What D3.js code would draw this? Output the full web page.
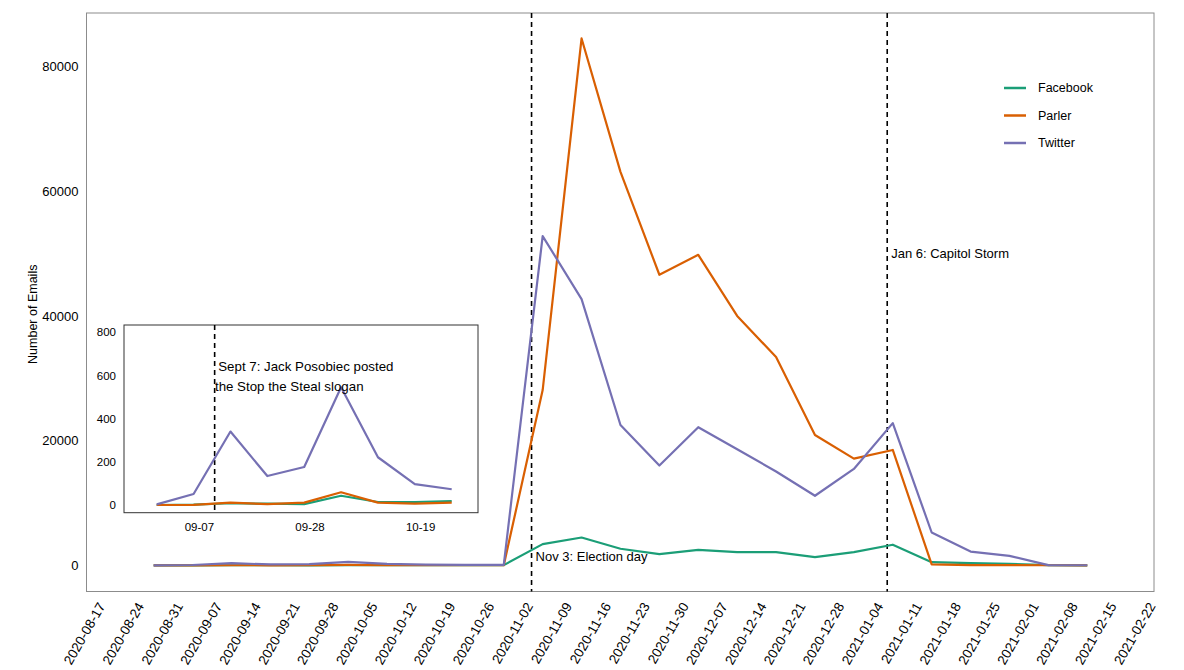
<!DOCTYPE html>
<html><head><meta charset="utf-8">
<script src="https://cdn.jsdelivr.net/npm/d3@7"></script>
<style>
body{margin:0;background:#fff}
text{font-family:"Liberation Sans",Arial,sans-serif;fill:#000}
</style>
</head><body>
<svg id="c" width="1184" height="670"></svg>
<script>
// ---------------- data ----------------
const weeks = ["2020-08-27","2020-09-03","2020-09-10","2020-09-17","2020-09-24","2020-10-01","2020-10-08","2020-10-15","2020-10-22","2020-10-29","2020-11-05","2020-11-12","2020-11-19","2020-11-26","2020-12-03","2020-12-10","2020-12-17","2020-12-24","2020-12-31","2021-01-07","2021-01-14","2021-01-21","2021-01-28","2021-02-04","2021-02-11"];
const facebook = [0, 2, 8, 6, 4, 43, 14, 14, 18, 30, 3400, 4460, 2650, 1800, 2480, 2120, 2120, 1320, 2120, 3300, 500, 350, 240, 30, 0];
const parler   = [0, 1, 11, 4, 11, 59, 11, 6, 11, 20, 28100, 84500, 63100, 46600, 49800, 40000, 33400, 20900, 17100, 18500, 150, 30, 20, 10, 0];
const twitter  = [3, 51, 340, 134, 176, 545, 221, 97, 73, 60, 52800, 42700, 22500, 16000, 22150, 18600, 15050, 11150, 15450, 22800, 5260, 2200, 1520, 30, 10];
const seriesNames = ["Facebook", "Parler", "Twitter"];
const seriesColors = ["#1b9e77", "#d95f02", "#7570b3"];
const xTickLabels = ["2020-08-17","2020-08-24","2020-08-31","2020-09-07","2020-09-14","2020-09-21","2020-09-28","2020-10-05","2020-10-12","2020-10-19","2020-10-26","2020-11-02","2020-11-09","2020-11-16","2020-11-23","2020-11-30","2020-12-07","2020-12-14","2020-12-21","2020-12-28","2021-01-04","2021-01-11","2021-01-18","2021-01-25","2021-02-01","2021-02-08","2021-02-15","2021-02-22"];
const yTicks = [0, 20000, 40000, 60000, 80000];
const yTitle = "Number of Emails";
const eventDates = ["2020-11-03", "2021-01-06"];
const eventLabels = ["Nov 3: Election day", "Jan 6: Capitol Storm"];
const eventLabelY = [1400, 50000];
const insetCount = 9;
const insetXTicks = ["2020-09-07", "2020-09-28", "2020-10-19"];
const insetXTickLabels = ["09-07", "09-28", "10-19"];
const insetYTicks = [0, 200, 400, 600, 800];
const insetEventDate = "2020-09-07";
const insetEventLines = ["Sept 7: Jack Posobiec posted", "the Stop the Steal slogan"];
const insetEventLineY = [640, 548];

// ---------------- setup ----------------
const parse = d3.utcParse("%Y-%m-%d");
const svg = d3.select("#c");
const P = {left: 86.5, right: 1154, top: 13, bottom: 591.5};
const x = d3.scaleUtc().domain([parse("2020-08-17"), parse("2021-02-22")]).range([98.1, 1148.4]);
const y = d3.scaleLinear().domain([0, 80000]).range([565.3, 66.5]);
const series = [facebook, parler, twitter];

// panel border
svg.append("rect").attr("x", P.left).attr("y", P.top)
  .attr("width", P.right - P.left).attr("height", P.bottom - P.top)
  .attr("fill", "#fff").attr("stroke", "#8c8c8c").attr("stroke-width", 1);

// y axis
const yAx = svg.append("g").attr("transform", `translate(${P.left},0)`)
  .call(d3.axisLeft(y).tickValues(yTicks).tickSize(0).tickPadding(8).tickFormat(d3.format("d")));
yAx.select(".domain").remove();
yAx.selectAll("text").attr("font-size", 13).style("font-family", '"Liberation Sans",Arial,sans-serif').attr("fill", "#000");

svg.append("text").attr("transform", `translate(37,${(P.top + P.bottom) / 2 + 12}) rotate(-90)`)
  .attr("text-anchor", "middle").attr("font-size", 12.5).text(yTitle);

// x axis
const xAx = svg.append("g").attr("transform", `translate(0,${P.bottom})`)
  .call(d3.axisBottom(x).tickValues(xTickLabels.map(parse)).tickSize(0).tickFormat(d3.utcFormat("%Y-%m-%d")));
xAx.select(".domain").remove();
xAx.selectAll("text")
  .attr("font-size", 13.5).style("font-family", '"Liberation Sans",Arial,sans-serif').attr("fill", "#000")
  .attr("text-anchor", "end").attr("x", 0).attr("y", 0).attr("dy", "0.35em")
  .attr("transform", "translate(3,12) rotate(-60)");

// event lines
eventDates.forEach((d, i) => {
  const xp = x(parse(d));
  svg.append("line").attr("x1", xp).attr("x2", xp).attr("y1", P.top).attr("y2", P.bottom)
    .attr("stroke", "#000").attr("stroke-width", 1.6).attr("stroke-dasharray", "5,4");
  svg.append("text").attr("x", xp + 4).attr("y", y(eventLabelY[i])).attr("dy", "0.35em")
    .attr("font-size", 13).text(eventLabels[i]);
});

// lines
const line = d3.line().x((d, i) => x(parse(weeks[i]))).y(d => y(d));
series.forEach((s, k) => {
  svg.append("path").datum(s).attr("d", line).attr("fill", "none")
    .attr("stroke", seriesColors[k]).attr("stroke-width", 2.2).attr("stroke-linejoin", "round");
});

// legend
const lg = svg.append("g");
seriesNames.forEach((n, k) => {
  const ly = 88 + k * 27.5;
  lg.append("line").attr("x1", 1004).attr("x2", 1026).attr("y1", ly).attr("y2", ly)
    .attr("stroke", seriesColors[k]).attr("stroke-width", 2.5);
  lg.append("text").attr("x", 1038).attr("y", ly).attr("dy", "0.35em").attr("font-size", 12.5).text(n);
});

// ---------------- inset ----------------
const I = {left: 124, right: 478, top: 325, bottom: 512.7};
const ix = d3.scaleUtc().domain([parse(weeks[0]), parse(weeks[insetCount - 1])]).range([156.7, 451.7]);
const iy = d3.scaleLinear().domain([0, 800]).range([505, 332.2]);
svg.append("rect").attr("x", I.left).attr("y", I.top).attr("width", I.right - I.left).attr("height", I.bottom - I.top)
  .attr("fill", "#fff").attr("stroke", "#333").attr("stroke-width", 1);

const iyAx = svg.append("g").attr("transform", `translate(${I.left},0)`)
  .call(d3.axisLeft(iy).tickValues(insetYTicks).tickSize(0).tickPadding(8));
iyAx.select(".domain").remove();
iyAx.selectAll("text").attr("font-size", 11.5).style("font-family", '"Liberation Sans",Arial,sans-serif').attr("fill", "#000");

const ixAx = svg.append("g").attr("transform", `translate(0,${I.bottom})`)
  .call(d3.axisBottom(ix).tickValues(insetXTicks.map(parse)).tickSize(0).tickFormat((d, i) => insetXTickLabels[i]));
ixAx.select(".domain").remove();
ixAx.selectAll("text").attr("font-size", 11.5).style("font-family", '"Liberation Sans",Arial,sans-serif').attr("fill", "#000")
  .attr("text-anchor", "end").attr("x", -1).attr("y", 14).attr("dy", "0.35em");

const iex = ix(parse(insetEventDate));
svg.append("line").attr("x1", iex).attr("x2", iex).attr("y1", I.top).attr("y2", I.bottom)
  .attr("stroke", "#000").attr("stroke-width", 1.6).attr("stroke-dasharray", "5,4");

const iline = d3.line().x((d, i) => ix(parse(weeks[i]))).y(d => iy(d));
series.forEach((s, k) => {
  svg.append("path").datum(s.slice(0, insetCount)).attr("d", iline).attr("fill", "none")
    .attr("stroke", seriesColors[k]).attr("stroke-width", 2.2).attr("stroke-linejoin", "round");
});
insetEventLines.forEach((t, i) => {
  svg.append("text").attr("x", iex + (i === 0 ? 3.6 : 0.3)).attr("y", iy(insetEventLineY[i])).attr("dy", "0.35em")
    .attr("font-size", 13.3).text(t);
});
</script>
</body></html>
